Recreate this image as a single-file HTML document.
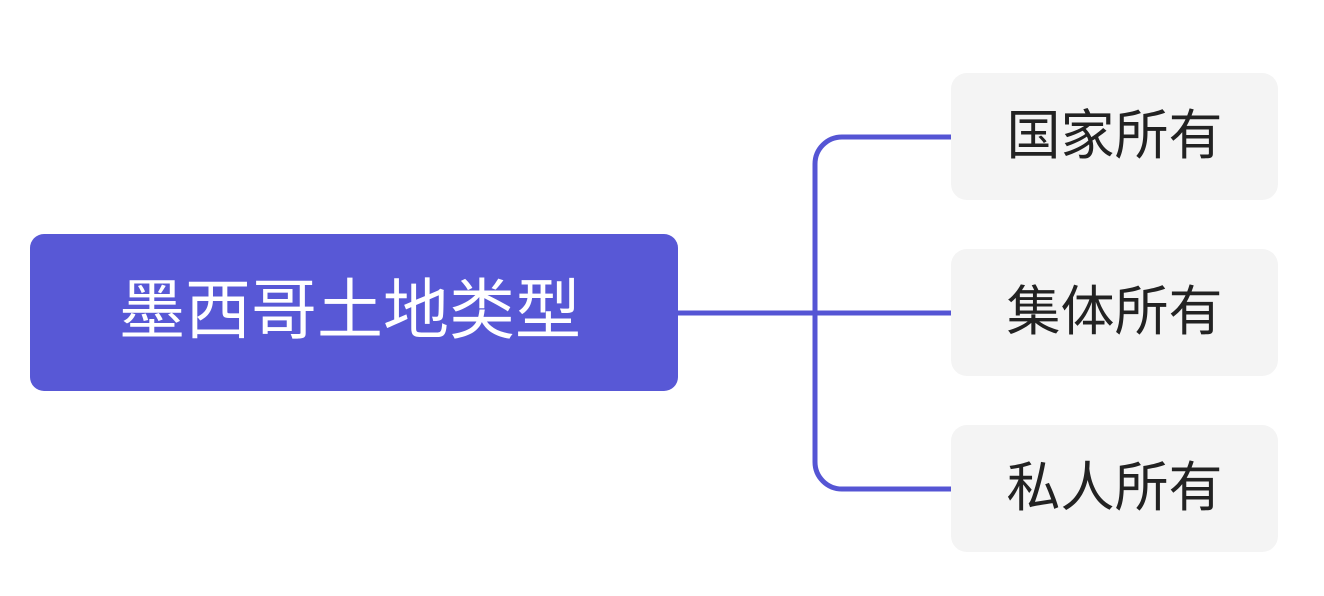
<!DOCTYPE html>
<html><head><meta charset="utf-8"><style>
html,body{margin:0;padding:0;background:#fff;}
body{width:1324px;height:596px;position:relative;overflow:hidden;font-family:"Liberation Sans","Noto Sans CJK SC",sans-serif;}
.main{position:absolute;left:30px;top:234px;width:648px;height:157px;box-sizing:border-box;padding-bottom:16px;padding-right:8px;background:#5858d6;border-radius:14px;color:#fff;font-size:66px;display:flex;align-items:center;justify-content:center;}
.leaf{position:absolute;left:951px;width:327px;height:127px;box-sizing:border-box;padding-bottom:12px;background:#f4f4f4;border-radius:16px;color:#222;font-size:54px;display:flex;align-items:center;justify-content:center;}
</style></head><body>
<svg width="1324" height="596" style="position:absolute;left:0;top:0">
<g fill="none" stroke="#5555d4" stroke-width="5">
<path d="M677 313 H952"/>
<path d="M952 137 H842 A27 27 0 0 0 815 164 V462 A27 27 0 0 0 842 489 H952"/>
</g>
</svg>
<div class="main">墨西哥土地类型</div>
<div class="leaf" style="top:73px">国家所有</div>
<div class="leaf" style="top:249px">集体所有</div>
<div class="leaf" style="top:425px">私人所有</div>
</body></html>
